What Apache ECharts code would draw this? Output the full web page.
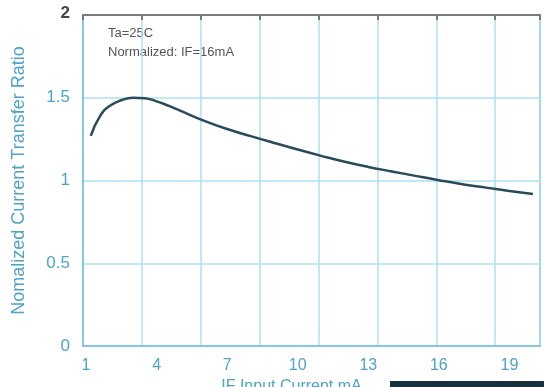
<!DOCTYPE html>
<html>
<head>
<meta charset="utf-8">
<script src="https://cdn.jsdelivr.net/npm/echarts@6/dist/echarts.min.js"></script>
<style>
html,body{margin:0;padding:0;background:#fff;}
#c{width:544px;height:387px;}
</style>
</head>
<body>
<div id="c"></div>
<script>
// Data
const currentMA = [1.2, 1.6, 2, 2.5, 3, 3.5, 4, 4.5, 5, 6, 7, 8, 9, 10, 11, 12, 13, 14, 15, 16, 17, 18, 19, 20];
const ctrRatio  = [1.27, 1.39, 1.45, 1.485, 1.50, 1.497, 1.478, 1.452, 1.422, 1.362, 1.311, 1.268, 1.227, 1.187, 1.149, 1.113, 1.082, 1.055, 1.028, 1.002, 0.978, 0.957, 0.937, 0.918];
const xTickLabels = [1, 4, 7, 10, 13, 16, 19];
const yTicks = [0, 0.5, 1, 1.5, 2];
const annotations = ['Ta=25C', 'Normalized: IF=16mA'];

const blueText = '#4fa3c6';
const gridBlue = '#ace0f1';
const axisBlue = '#86c8e2';

const chart = echarts.init(document.getElementById('c'));
chart.setOption({
  animation: false,
  backgroundColor: '#ffffff',
  grid: { left: 83, right: 4, top: 15, bottom: 41, show: true, borderColor: axisBlue, borderWidth: 2,
          containLabel: false, outerBoundsMode: 'none' },
  xAxis: [
    {
      type: 'value', min: 0.87, max: 20.3, position: 'bottom',
      axisLine: { show: true, lineStyle: { color: axisBlue, width: 2 } },
      axisTick: { show: false },
      splitLine: { show: false },
      axisLabel: { customValues: xTickLabels, color: blueText, fontSize: 16, margin: 12, fontFamily: 'Liberation Sans' },
      name: 'IF Input Current mA', nameLocation: 'middle', nameGap: 32,
      nameTextStyle: { color: blueText, fontSize: 16, fontFamily: 'Liberation Sans', padding: [0, 40, 0, 0] }
    },
    {
      type: 'value', min: 0, max: 7.76, interval: 1, position: 'top',
      axisLine: { show: true, lineStyle: { color: '#7a7a7a', width: 2 } },
      axisTick: { show: true, inside: true, length: 5, lineStyle: { color: '#7a7a7a', width: 2 } },
      axisLabel: { show: false },
      splitLine: { show: true, lineStyle: { color: gridBlue, width: 1.5 } }
    }
  ],
  yAxis: {
    type: 'value', min: 0, max: 2, interval: 0.5,
    axisLine: { show: true, lineStyle: { color: axisBlue, width: 2 } },
    axisTick: { show: false },
    splitLine: { show: true, lineStyle: { color: gridBlue, width: 1.5 } },
    axisLabel: {
      color: blueText, fontSize: 17, margin: 13, fontFamily: 'Liberation Sans',
      formatter: function (v) { return v === 2 ? '{b|2}' : String(v); },
      rich: { b: { color: '#444', fontWeight: 'bold', fontSize: 17, fontFamily: 'Liberation Sans', padding: [0, 0, 4, 0] } }
    },
    name: 'Nomalized Current Transfer Ratio', nameLocation: 'middle', nameGap: 55,
    nameTextStyle: { color: blueText, fontSize: 18, fontFamily: 'Liberation Sans' }
  },
  graphic: [
    { type: 'text', left: 108, top: 27, style: { text: annotations[0], fill: '#555', font: '13px "Liberation Sans"' } },
    { type: 'text', left: 108, top: 46, style: { text: annotations[1], fill: '#555', font: '13px "Liberation Sans"' } },
    { type: 'rect', shape: { x: 390, y: 381, width: 154, height: 6 }, style: { fill: '#17313d' } }
  ],
  series: [{
    type: 'line', xAxisIndex: 0, smooth: true, symbol: 'none',
    data: currentMA.map((x, i) => [x, ctrRatio[i]]),
    lineStyle: { color: '#284b5b', width: 2.5 }
  }]
});
</script>
</body>
</html>
